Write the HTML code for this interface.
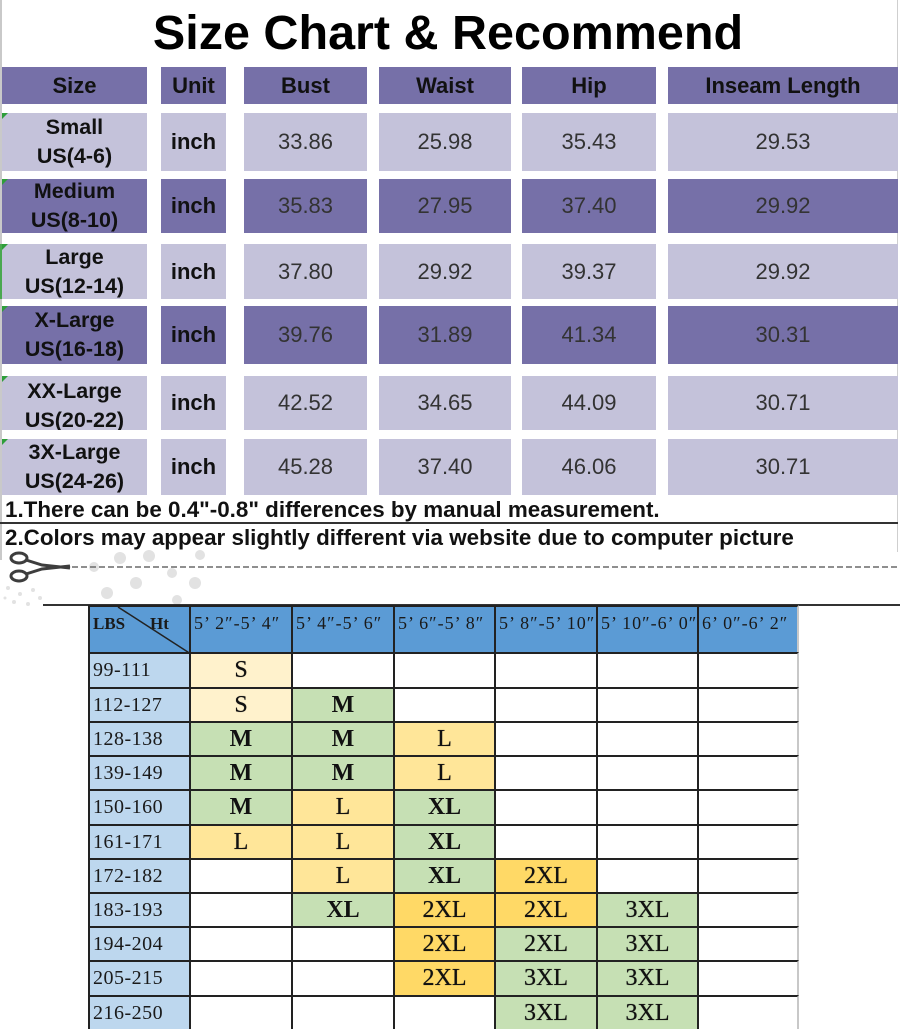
<!DOCTYPE html>
<html>
<head>
<meta charset="utf-8">
<style>
  html,body{margin:0;padding:0;background:#fff;}
  body{width:900px;height:1029px;position:relative;overflow:hidden;font-family:"Liberation Sans",Arial,sans-serif;}
  .a{position:absolute;box-sizing:border-box;}
  .title{position:absolute;left:0;width:896px;top:9px;text-align:center;font-weight:bold;font-size:48.5px;line-height:1;color:#000;}
  .c{position:absolute;box-sizing:border-box;display:flex;align-items:center;justify-content:center;text-align:center;overflow:hidden;}
  .d{background:#7670a8;}
  .l{background:#c4c2da;}
  .h{font-weight:bold;font-size:22px;color:#111;}
  .sz{font-weight:bold;font-size:21.5px;line-height:29px;color:#111;}
  .u{font-weight:bold;font-size:22px;color:#111;}
  .n{font-size:22px;color:#333;}
  .note{position:absolute;left:5px;font-weight:bold;font-size:22.4px;line-height:22px;color:#111;white-space:nowrap;}
  .tri{position:absolute;width:0;height:0;border-top:6px solid #2e9e3a;border-right:6px solid transparent;}
  .grid{position:absolute;left:88px;top:605px;display:grid;
        grid-template-columns:101px 102px 102px 101px 102px 101px 102px;
        grid-template-rows:47px 35px 34px 34px 34px 35px 34px 34px 34px 34px 35px 34px;}
  .g{box-sizing:border-box;border-left:2px solid #222;border-top:2px solid #222;overflow:hidden;white-space:nowrap;
     font-family:"Liberation Serif","Noto Serif CJK SC",serif;color:#111;}
  .g.last{border-right:2px solid #c8c8c8;}
  .hd{background:#5b9bd5;font-size:18px;line-height:22px;padding:5px 0 0 3px;letter-spacing:1px;color:#1a1a1a;}
  .lb{background:#bdd7ee;font-size:20px;display:flex;align-items:center;padding-left:3px;letter-spacing:0.5px;color:#1a1a1a;}
  .s{display:flex;align-items:center;justify-content:center;font-size:24px;text-shadow:0 0 0.6px #111;}
  .b{font-weight:bold;text-shadow:none;}
  .cr{background:#fff2cc;}
  .gr{background:#c6e0b4;}
  .ye{background:#ffe699;}
  .go{background:#ffd966;}
</style>
</head>
<body>

<div class="a" style="left:0;top:0;width:2px;height:560px;background:#c9c9c9;"></div>
<div class="a" style="left:897px;top:0;width:1px;height:552px;background:#cfcfcf;"></div>

<div class="title">Size Chart &amp; Recommend</div>

<div class="c d h" style="left:2px;top:67px;width:145px;height:37px;">Size</div>
<div class="c d h" style="left:161px;top:67px;width:65px;height:37px;">Unit</div>
<div class="c d h" style="left:244px;top:67px;width:123px;height:37px;">Bust</div>
<div class="c d h" style="left:379px;top:67px;width:132px;height:37px;">Waist</div>
<div class="c d h" style="left:522px;top:67px;width:134px;height:37px;">Hip</div>
<div class="c d h" style="left:668px;top:67px;width:230px;height:37px;">Inseam Length</div>

<div class="c l sz" style="left:2px;top:113px;width:145px;height:58px;">Small<br>US(4-6)</div>
<div class="c l u" style="left:161px;top:113px;width:65px;height:58px;">inch</div>
<div class="c l n" style="left:244px;top:113px;width:123px;height:58px;">33.86</div>
<div class="c l n" style="left:379px;top:113px;width:132px;height:58px;">25.98</div>
<div class="c l n" style="left:522px;top:113px;width:134px;height:58px;">35.43</div>
<div class="c l n" style="left:668px;top:113px;width:230px;height:58px;">29.53</div>

<div class="c d sz" style="left:2px;top:179px;width:145px;height:54px;">Medium<br>US(8-10)</div>
<div class="c d u" style="left:161px;top:179px;width:65px;height:54px;">inch</div>
<div class="c d n" style="left:244px;top:179px;width:123px;height:54px;">35.83</div>
<div class="c d n" style="left:379px;top:179px;width:132px;height:54px;">27.95</div>
<div class="c d n" style="left:522px;top:179px;width:134px;height:54px;">37.40</div>
<div class="c d n" style="left:668px;top:179px;width:230px;height:54px;">29.92</div>

<div class="c l sz" style="left:2px;top:244px;width:145px;height:55px;">Large<br>US(12-14)</div>
<div class="c l u" style="left:161px;top:244px;width:65px;height:55px;">inch</div>
<div class="c l n" style="left:244px;top:244px;width:123px;height:55px;">37.80</div>
<div class="c l n" style="left:379px;top:244px;width:132px;height:55px;">29.92</div>
<div class="c l n" style="left:522px;top:244px;width:134px;height:55px;">39.37</div>
<div class="c l n" style="left:668px;top:244px;width:230px;height:55px;">29.92</div>

<div class="c d sz" style="left:2px;top:306px;width:145px;height:58px;">X-Large<br>US(16-18)</div>
<div class="c d u" style="left:161px;top:306px;width:65px;height:58px;">inch</div>
<div class="c d n" style="left:244px;top:306px;width:123px;height:58px;">39.76</div>
<div class="c d n" style="left:379px;top:306px;width:132px;height:58px;">31.89</div>
<div class="c d n" style="left:522px;top:306px;width:134px;height:58px;">41.34</div>
<div class="c d n" style="left:668px;top:306px;width:230px;height:58px;">30.31</div>

<div class="c l sz" style="left:2px;top:376px;width:145px;height:54px;padding-top:6px;">XX-Large<br>US(20-22)</div>
<div class="c l u" style="left:161px;top:376px;width:65px;height:54px;">inch</div>
<div class="c l n" style="left:244px;top:376px;width:123px;height:54px;">42.52</div>
<div class="c l n" style="left:379px;top:376px;width:132px;height:54px;">34.65</div>
<div class="c l n" style="left:522px;top:376px;width:134px;height:54px;">44.09</div>
<div class="c l n" style="left:668px;top:376px;width:230px;height:54px;">30.71</div>

<div class="c l sz" style="left:2px;top:439px;width:145px;height:56px;">3X-Large<br>US(24-26)</div>
<div class="c l u" style="left:161px;top:439px;width:65px;height:56px;">inch</div>
<div class="c l n" style="left:244px;top:439px;width:123px;height:56px;">45.28</div>
<div class="c l n" style="left:379px;top:439px;width:132px;height:56px;">37.40</div>
<div class="c l n" style="left:522px;top:439px;width:134px;height:56px;">46.06</div>
<div class="c l n" style="left:668px;top:439px;width:230px;height:56px;">30.71</div>

<div class="tri" style="left:2px;top:113px;"></div>
<div class="tri" style="left:2px;top:179px;"></div>
<div class="tri" style="left:2px;top:244px;"></div>
<div class="a" style="left:0;top:244px;width:2px;height:55px;background:#4aa84f;"></div>
<div class="tri" style="left:2px;top:306px;"></div>
<div class="tri" style="left:2px;top:376px;"></div>
<div class="tri" style="left:2px;top:439px;"></div>

<div class="note" style="top:499px;">1.There can be 0.4"-0.8" differences by manual measurement.</div>
<div class="a" style="left:0;top:522px;width:898px;height:2px;background:#333;"></div>
<div class="note" style="top:527px;">2.Colors may appear slightly different via website due to computer picture</div>

<svg class="a" style="left:0;top:548px;" width="900" height="60" viewBox="0 0 900 60">
  <g fill="#e2e2e2">
    <circle cx="120" cy="10" r="6"/>
    <circle cx="149" cy="8" r="6"/>
    <circle cx="200" cy="7" r="5"/>
    <circle cx="94" cy="19" r="5"/>
    <circle cx="172" cy="25" r="5"/>
    <circle cx="136" cy="35" r="6"/>
    <circle cx="195" cy="35" r="6"/>
    <circle cx="107" cy="45" r="6"/>
    <circle cx="177" cy="52" r="5"/>
    <circle cx="8" cy="40" r="2"/>
    <circle cx="20" cy="46" r="2"/>
    <circle cx="33" cy="42" r="2"/>
    <circle cx="14" cy="54" r="2"/>
    <circle cx="28" cy="56" r="2"/>
    <circle cx="40" cy="50" r="2"/>
    <circle cx="5" cy="50" r="1.5"/>
  </g>
  <line x1="72" y1="19" x2="900" y2="19" stroke="#6a6a6a" stroke-width="1.5" stroke-dasharray="6 3"/>
  <g fill="none" stroke="#3d3d3d" stroke-width="3">
    <ellipse cx="19" cy="10" rx="8" ry="5"/>
    <ellipse cx="19" cy="28" rx="8" ry="5"/>
    <path d="M26 12 L42 17 L70 20"/>
    <path d="M26 26 L42 21 L70 18"/>
  </g>
</svg>
<div class="a" style="left:43px;top:604px;width:857px;height:2px;background:#333;"></div>

<div class="grid">
  <div class="g hd" style="position:relative;padding:0;">
    <span style="position:absolute;left:3px;top:6px;font-weight:bold;font-size:17px;letter-spacing:0;">LBS</span>
    <span style="position:absolute;left:60px;top:6px;font-weight:bold;font-size:17px;letter-spacing:0;">Ht</span>
    <svg style="position:absolute;left:0;top:0;" width="101" height="47"><line x1="28" y1="0" x2="101" y2="47" stroke="#222" stroke-width="1.5"/></svg>
  </div>
  <div class="g hd">5’ 2″-5’ 4″</div>
  <div class="g hd">5’ 4″-5’ 6″</div>
  <div class="g hd">5’ 6″-5’ 8″</div>
  <div class="g hd">5’ 8″-5’ 10″</div>
  <div class="g hd">5’ 10″-6’ 0″</div>
  <div class="g hd last">6’ 0″-6’ 2″</div>

  <div class="g lb">99-111</div>
  <div class="g s cr">S</div>
  <div class="g s"></div>
  <div class="g s"></div>
  <div class="g s"></div>
  <div class="g s"></div>
  <div class="g s last"></div>

  <div class="g lb">112-127</div>
  <div class="g s cr">S</div>
  <div class="g s gr b">M</div>
  <div class="g s"></div>
  <div class="g s"></div>
  <div class="g s"></div>
  <div class="g s last"></div>

  <div class="g lb">128-138</div>
  <div class="g s gr b">M</div>
  <div class="g s gr b">M</div>
  <div class="g s ye">L</div>
  <div class="g s"></div>
  <div class="g s"></div>
  <div class="g s last"></div>

  <div class="g lb">139-149</div>
  <div class="g s gr b">M</div>
  <div class="g s gr b">M</div>
  <div class="g s ye">L</div>
  <div class="g s"></div>
  <div class="g s"></div>
  <div class="g s last"></div>

  <div class="g lb">150-160</div>
  <div class="g s gr b">M</div>
  <div class="g s ye">L</div>
  <div class="g s gr b">XL</div>
  <div class="g s"></div>
  <div class="g s"></div>
  <div class="g s last"></div>

  <div class="g lb">161-171</div>
  <div class="g s ye">L</div>
  <div class="g s ye">L</div>
  <div class="g s gr b">XL</div>
  <div class="g s"></div>
  <div class="g s"></div>
  <div class="g s last"></div>

  <div class="g lb">172-182</div>
  <div class="g s"></div>
  <div class="g s ye">L</div>
  <div class="g s gr b">XL</div>
  <div class="g s go">2XL</div>
  <div class="g s"></div>
  <div class="g s last"></div>

  <div class="g lb">183-193</div>
  <div class="g s"></div>
  <div class="g s gr b">XL</div>
  <div class="g s go">2XL</div>
  <div class="g s go">2XL</div>
  <div class="g s gr">3XL</div>
  <div class="g s last"></div>

  <div class="g lb">194-204</div>
  <div class="g s"></div>
  <div class="g s"></div>
  <div class="g s go">2XL</div>
  <div class="g s gr">2XL</div>
  <div class="g s gr">3XL</div>
  <div class="g s last"></div>

  <div class="g lb">205-215</div>
  <div class="g s"></div>
  <div class="g s"></div>
  <div class="g s go">2XL</div>
  <div class="g s gr">3XL</div>
  <div class="g s gr">3XL</div>
  <div class="g s last"></div>

  <div class="g lb">216-250</div>
  <div class="g s"></div>
  <div class="g s"></div>
  <div class="g s"></div>
  <div class="g s gr">3XL</div>
  <div class="g s gr">3XL</div>
  <div class="g s last"></div>
</div>

</body>
</html>
